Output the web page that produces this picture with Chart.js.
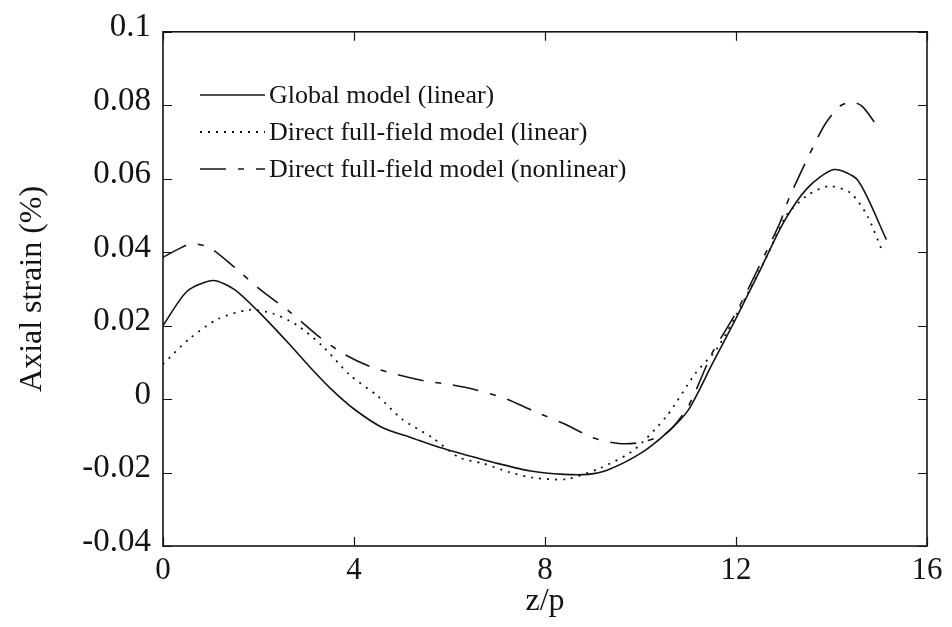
<!DOCTYPE html>
<html>
<head>
<meta charset="utf-8">
<script src="https://cdn.jsdelivr.net/npm/chart.js@4.4.1/dist/chart.umd.min.js"></script>
<style>
  html, body { margin: 0; padding: 0; background: #ffffff; }
  #wrap { width: 952px; height: 627px; }
</style>
</head>
<body>
<div id="wrap"><canvas id="c" width="952" height="627"></canvas></div>
<script>
// Axial strain along the normalised position z/p for three models
const zGlobal = [0, 0.5, 1.05, 1.5, 2.0, 2.6, 3.1, 3.5, 4.0, 4.6, 5.2, 5.8, 6.4, 7.0, 7.7, 8.4, 8.9, 9.3, 10.0, 10.55, 11.0, 11.5, 12.0, 12.5, 13.0, 13.5, 14.05, 14.55, 15.15];
const strainGlobal = [0.020, 0.0293, 0.0323, 0.0298, 0.0238, 0.0156, 0.0084, 0.0030, -0.0027, -0.0078, -0.0105, -0.0132, -0.0154, -0.0175, -0.0196, -0.0205, -0.0205, -0.0194, -0.0148, -0.0092, -0.0030, 0.0095, 0.0220, 0.0350, 0.0482, 0.0575, 0.0625, 0.0596, 0.0434];

const zDirectLin = [0, 0.55, 1.15, 1.8, 2.3, 2.8, 3.35, 3.9, 4.5, 5.0, 5.65, 6.2, 6.7, 7.25, 7.75, 8.45, 9.15, 9.85, 10.55, 11.15, 11.6, 12.15, 12.65, 13.05, 13.5, 13.95, 14.4, 14.75, 15.05];
const strainDirectLin = [0.0095, 0.0164, 0.0218, 0.0243, 0.0233, 0.0202, 0.0143, 0.0067, 0.0008, -0.0054, -0.0106, -0.0159, -0.0175, -0.0199, -0.0214, -0.0218, -0.0188, -0.0140, -0.0046, 0.0070, 0.0137, 0.0264, 0.0390, 0.0499, 0.0555, 0.0580, 0.0561, 0.0499, 0.0407];

const zDirectNonlin = [0, 0.3, 0.6, 0.98, 1.55, 2.03, 2.66, 3.22, 3.77, 4.33, 4.9, 5.5, 6.0, 6.5, 7.2, 7.75, 8.4, 9.0, 9.55, 10.0, 10.55, 11.0, 11.5, 12.0, 12.5, 12.92, 13.13, 13.7, 13.9, 14.18, 14.45, 14.66, 14.97];
const strainDirectNonlin = [0.0386, 0.0407, 0.0423, 0.0412, 0.0353, 0.0299, 0.0237, 0.0175, 0.0124, 0.0089, 0.0067, 0.0049, 0.0040, 0.0027, 0.0000, -0.0032, -0.0067, -0.0105, -0.0121, -0.0118, -0.0092, -0.0020, 0.0125, 0.0235, 0.0365, 0.0480, 0.0553, 0.0709, 0.0755, 0.0798, 0.0809, 0.0795, 0.0741];

const seriesNames = ['Global model (linear)', 'Direct full-field model (linear)', 'Direct full-field model (nonlinear)'];
const xTickValues = [0, 4, 8, 12, 16];
const xTickLabels = ['0', '4', '8', '12', '16'];
const yTickValues = [-0.04, -0.02, 0, 0.02, 0.04, 0.06, 0.08, 0.1];
const yTickLabels = ['-0.04', '-0.02', '0', '0.02', '0.04', '0.06', '0.08', '0.1'];

const INK = '#141414';
const SERIF = "'Liberation Serif', 'DejaVu Serif', serif";

function pairs(xs, ys) { return xs.map((x, i) => ({ x: x, y: ys[i] })); }

// Frame, inward tick marks and the in-plot legend
const framePlugin = {
  id: 'frame',
  afterDatasetsDraw(chart) {
    const { ctx, chartArea: a, scales } = chart;
    ctx.save();
    ctx.strokeStyle = INK;
    ctx.lineWidth = 1.6;
    ctx.setLineDash([]);
    ctx.strokeRect(a.left, a.top, a.right - a.left, a.bottom - a.top);
    ctx.lineWidth = 1.2;
    const len = 9;
    ctx.beginPath();
    yTickValues.forEach(v => {
      const py = Math.round(scales.y.getPixelForValue(v)) + 0.5;
      ctx.moveTo(a.left, py); ctx.lineTo(a.left + len, py);
      ctx.moveTo(a.right, py); ctx.lineTo(a.right - len, py);
    });
    xTickValues.forEach(v => {
      const px = Math.round(scales.x.getPixelForValue(v)) + 0.5;
      ctx.moveTo(px, a.bottom); ctx.lineTo(px, a.bottom - len);
      ctx.moveTo(px, a.top); ctx.lineTo(px, a.top + len);
    });
    ctx.stroke();
    ctx.restore();
  },
  afterDraw(chart) {
    const { ctx } = chart;
    const rows = [95, 132, 169];
    const x0 = 200, x1 = 265, tx = 269;
    ctx.save();
    ctx.font = '26px ' + SERIF;
    ctx.fillStyle = INK;
    ctx.textBaseline = 'middle';
    chart.data.datasets.forEach((ds, i) => {
      const y = rows[i];
      ctx.strokeStyle = ds.borderColor;
      ctx.lineWidth = ds.borderWidth;
      ctx.setLineDash(ds.borderDash || []);
      ctx.beginPath();
      ctx.moveTo(x0, y); ctx.lineTo(x1, y);
      ctx.stroke();
      ctx.setLineDash([]);
      ctx.fillText(ds.label, tx, y + 1);
    });
    ctx.restore();
  }
};

const ctx = document.getElementById('c').getContext('2d');
new Chart(ctx, {
  type: 'line',
  data: {
    datasets: [
      { label: seriesNames[0], data: pairs(zGlobal, strainGlobal), borderColor: INK, borderWidth: 1.6, borderDash: [], pointRadius: 0, tension: 0.25, fill: false },
      { label: seriesNames[1], data: pairs(zDirectLin, strainDirectLin), borderColor: INK, borderWidth: 1.8, borderDash: [2, 6], pointRadius: 0, tension: 0.25, fill: false },
      { label: seriesNames[2], data: pairs(zDirectNonlin, strainDirectNonlin), borderColor: INK, borderWidth: 1.6, borderDash: [26, 12, 6, 12], pointRadius: 0, tension: 0.25, fill: false }
    ]
  },
  options: {
    responsive: false,
    animation: false,
    devicePixelRatio: 1,
    layout: { padding: { left: 13, right: 25, top: 28, bottom: 0 } },
    plugins: { legend: { display: false }, tooltip: { enabled: false } },
    scales: {
      x: {
        type: 'linear', min: 0, max: 16,
        grid: { display: false, drawTicks: false }, border: { display: false },
        afterBuildTicks: s => { s.ticks = xTickValues.map(v => ({ value: v })); },
        afterFit: s => { s.height = 81; },
        ticks: {
          color: INK, padding: 6, maxRotation: 0,
          font: { family: SERIF, size: 31 },
          callback: (v) => xTickLabels[xTickValues.indexOf(v)]
        },
        title: { display: true, text: 'z/p', color: INK, font: { family: SERIF, size: 32 }, padding: { top: 0, bottom: 6 } }
      },
      y: {
        type: 'linear', min: -0.04, max: 0.1,
        grid: { display: false, drawTicks: false }, border: { display: false },
        afterBuildTicks: s => { s.ticks = yTickValues.map(v => ({ value: v })); },
        afterFit: s => { s.width = 150; },
        ticks: {
          color: INK, padding: 12, labelOffset: -4,
          font: { family: SERIF, size: 33 },
          callback: (v) => {
            const i = yTickValues.findIndex(t => Math.abs(t - v) < 1e-9);
            return i >= 0 ? yTickLabels[i] : '';
          }
        },
        title: { display: true, text: 'Axial strain (%)', color: INK, font: { family: SERIF, size: 32 }, padding: { top: 0, bottom: 0 } }
      }
    }
  },
  plugins: [framePlugin]
});
</script>
</body>
</html>
